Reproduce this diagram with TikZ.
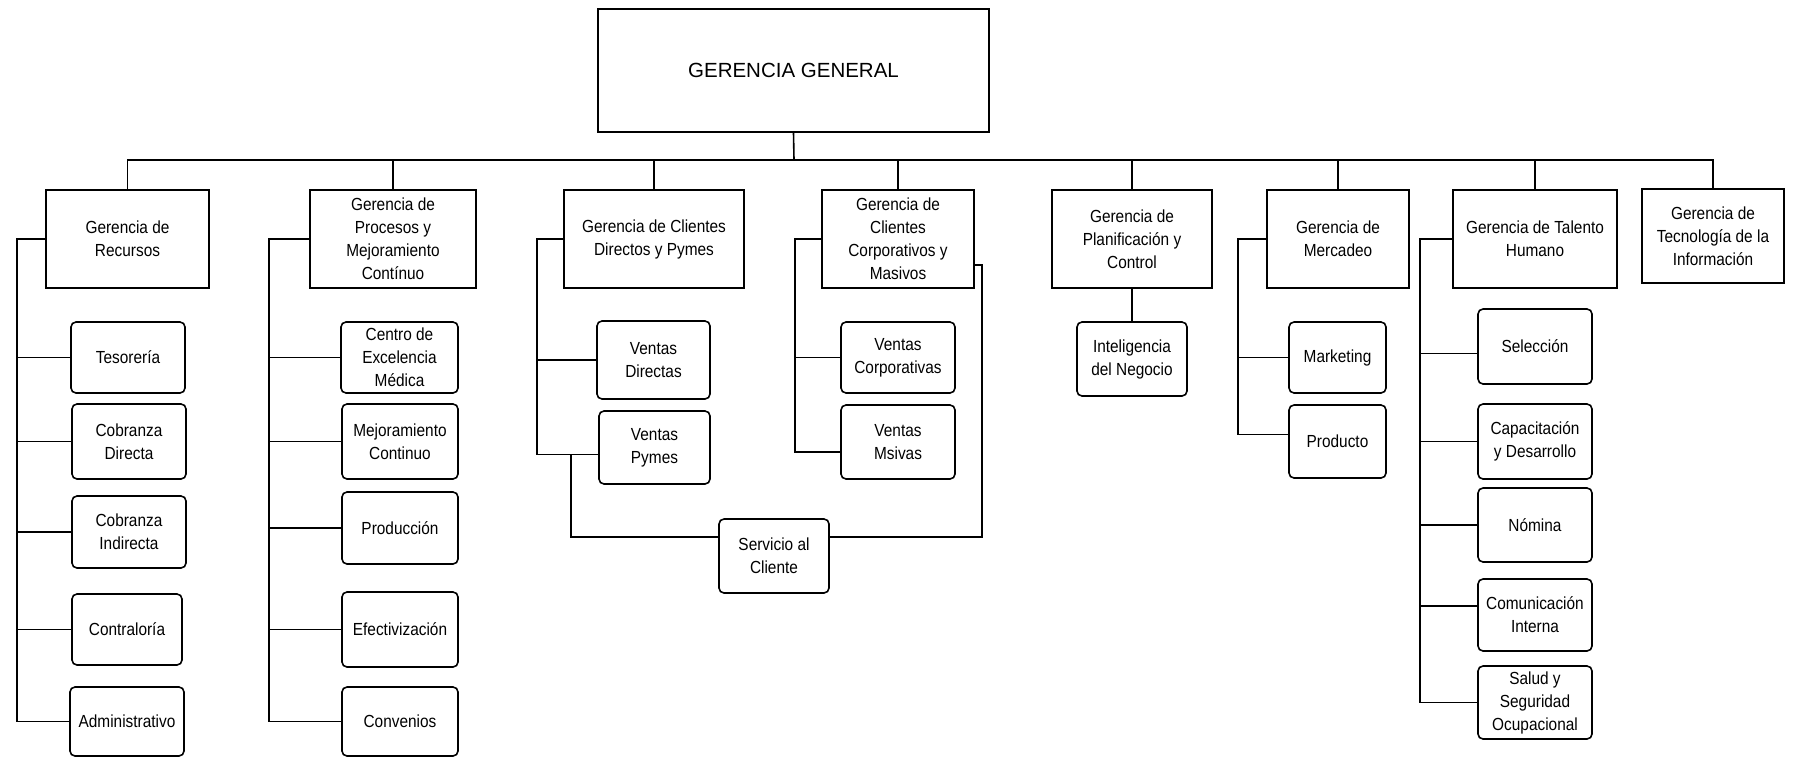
\documentclass[tikz,border=0pt]{standalone}
\usepackage{fontspec}
\setmainfont[FakeStretch=0.88]{Liberation Sans}
\newfontfamily\ggfont{Liberation Sans}
\begin{document}
\begin{tikzpicture}[x=1pt,y=-1pt,
  every node/.style={font=\fontsize{17.5}{23}\selectfont, align=center, inner sep=1pt, text=black},
  lvlbox/.style n args={2}{draw=black, line width=1.8pt, minimum width=#1, minimum height=#2},
  chbox/.style n args={2}{draw=black, line width=1.6pt, rounded corners=5pt, minimum width=#1, minimum height=#2},
  conn/.style={draw=black, line width=1.6pt}]
\useasboundingbox (0,0) rectangle (1796,758);
\fill[white] (0,0) rectangle (1796,758);

% top
\node[lvlbox={391}{123}, font=\ggfont\fontsize{20.5}{24}\selectfont] (gg) at (793.5,70.5) {GERENCIA GENERAL};

% level 1
\node[lvlbox={163}{98}] (rec)  at (127.5,239) {Gerencia de\\Recursos};
\node[lvlbox={166}{98}] (proc) at (393,239) {Gerencia de\\Procesos y\\Mejoramiento\\Contínuo};
\node[lvlbox={180}{98}] (cd)   at (654,239) {Gerencia de Clientes\\Directos y Pymes};
\node[lvlbox={152}{98}] (corp) at (898,239) {Gerencia de\\Clientes\\Corporativos y\\Masivos};
\node[lvlbox={160}{98}] (plan) at (1132,239) {Gerencia de\\Planificación y\\Control};
\node[lvlbox={142}{98}] (merc) at (1338,239) {Gerencia de\\Mercadeo};
\node[lvlbox={164}{98}] (tal)  at (1535,239) {Gerencia de Talento\\Humano};
\node[lvlbox={142}{94}] (tec)  at (1713,236) {Gerencia de\\Tecnología de la\\Información};

% Recursos children
\node[chbox={114}{71}] (tes)   at (128,357.5) {Tesorería};
\node[chbox={114}{75}] (cdir)  at (129,441.5) {Cobranza\\Directa};
\node[chbox={114}{72}] (cind)  at (129,532) {Cobranza\\Indirecta};
\node[chbox={110}{71}] (contr) at (127,629.5) {Contraloría};
\node[chbox={114}{69}] (adm)   at (127,721.5) {Administrativo};

% Procesos children
\node[chbox={117}{71}] (centro) at (399.5,357.5) {Centro de\\Excelencia\\Médica};
\node[chbox={116}{75}] (mej)    at (400,441.5) {Mejoramiento\\Continuo};
\node[chbox={116}{72}] (prodn)  at (400,528) {Producción};
\node[chbox={116}{75}] (efec)   at (400,629.5) {Efectivización};
\node[chbox={116}{69}] (conv)   at (400,721.5) {Convenios};

% Clientes children
\node[chbox={113}{78}] (vd)   at (653.5,360) {Ventas\\Directas};
\node[chbox={111}{73}] (vp)   at (654.5,447.5) {Ventas\\Pymes};
\node[chbox={110}{74}] (serv) at (774,556) {Servicio al\\Cliente};
\node[chbox={114}{71}] (vc)   at (898,357.5) {Ventas\\Corporativas};
\node[chbox={114}{74}] (vm)   at (898,442) {Ventas\\Msivas};

% Planificacion / Mercadeo
\node[chbox={110}{74}] (intel) at (1132,359) {Inteligencia\\del Negocio};
\node[chbox={97}{71}]  (mkt)   at (1337.5,357.5) {Marketing};
\node[chbox={97}{73}]  (prod)  at (1337.5,441.5) {Producto};

% Talento children
\node[chbox={114}{75}] (sel) at (1535,346.5) {Selección};
\node[chbox={114}{75}] (cap) at (1535,441.5) {Capacitación\\y Desarrollo};
\node[chbox={114}{74}] (nom) at (1535,525) {Nómina};
\node[chbox={114}{72}] (com) at (1535,615) {Comunicación\\Interna};
\node[chbox={114}{73}] (sal) at (1535,702.5) {Salud y\\Seguridad\\Ocupacional};

% helper coordinates
\coordinate (bar) at (794,160);
\coordinate (recsp) at (17,0);
\coordinate (procsp) at (269,0);
\coordinate (cdsp) at (537,0);
\coordinate (servsp) at (571,0);
\coordinate (corpsp) at (795,0);
\coordinate (corprt) at (982,0);
\coordinate (mercsp) at (1238,0);
\coordinate (talsp) at (1420,0);

% top connectors
\draw[conn] (gg.south) -- (bar);
\draw[conn] (rec.north) |- (bar) -| (tec.north);
\foreach \nm in {proc,cd,corp,plan,merc,tal} \draw[conn] (\nm.north) -- (\nm.north |- bar);

% Recursos
\draw[conn] (rec.west) -- (rec.west -| recsp) -- (adm.west -| recsp) -- (adm.west);
\foreach \nm in {tes,cdir,cind,contr} \draw[conn] (\nm.west -| recsp) -- (\nm.west);

% Procesos
\draw[conn] (proc.west) -- (proc.west -| procsp) -- (conv.west -| procsp) -- (conv.west);
\foreach \nm in {centro,mej,prodn,efec} \draw[conn] (\nm.west -| procsp) -- (\nm.west);

% Clientes directos
\coordinate (vpc) at ([yshift=-7pt]vp.west);
\draw[conn] (cd.west) -- (cd.west -| cdsp) -- (vpc -| cdsp) -- (vpc);
\draw[conn] (vd.west -| cdsp) -- (vd.west);
\coordinate (servl) at ([yshift=19pt]serv.west);
\coordinate (servr) at ([yshift=19pt]serv.east);
\draw[conn] (vpc -| servsp) -- (servl -| servsp) -- (servl);
\coordinate (corpr) at ([yshift=-26pt]corp.east);
\draw[conn] (servr) -- (servr -| corprt) -- (corpr -| corprt) -- (corpr);

% Corporativos
\coordinate (vmc) at ([yshift=-10pt]vm.west);
\draw[conn] (corp.west) -- (corp.west -| corpsp) -- (vmc -| corpsp) -- (vmc);
\draw[conn] (vc.west -| corpsp) -- (vc.west);

% Planificacion
\draw[conn] (plan.south) -- (intel.north);

% Mercadeo
\coordinate (prc) at ([yshift=7pt]prod.west);
\draw[conn] (merc.west) -- (merc.west -| mercsp) -- (prc -| mercsp) -- (prc);
\draw[conn] (mkt.west -| mercsp) -- (mkt.west);

% Talento
\draw[conn] (tal.west) -- (tal.west -| talsp) -- (sal.west -| talsp) -- (sal.west);
\coordinate (selc) at ([yshift=-7pt]sel.west);
\coordinate (comc) at ([yshift=9pt]com.west);
\draw[conn] (selc -| talsp) -- (selc);
\foreach \nm in {cap,nom} \draw[conn] (\nm.west -| talsp) -- (\nm.west);
\draw[conn] (comc -| talsp) -- (comc);
\end{tikzpicture}
\end{document}
